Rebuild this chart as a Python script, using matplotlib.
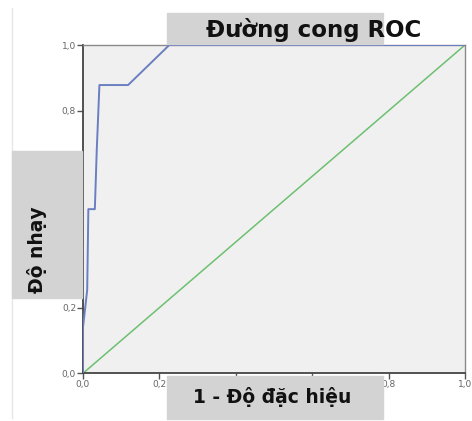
import matplotlib
matplotlib.use("Agg")
import matplotlib.pyplot as plt
from matplotlib.patches import Rectangle
from matplotlib.lines import Line2D

# du lieu doc tu hinh
fpr = [0.0, 0.0, 0.011, 0.014, 0.031, 0.036, 0.043, 0.118, 0.226, 1.0]
tpr = [0.0, 0.14, 0.254, 0.50, 0.50, 0.68, 0.878, 0.878, 1.0, 1.0]
ref_line = [0.0, 1.0]
ticks = [0.0, 0.2, 0.4, 0.6, 0.8, 1.0]
tick_labels = ["0,0", "0,2", "0,4", "0,6", "0,8", "1,0"]
hidden = ["0,4", "0,6"]  # bi hop xam che trong hinh goc

W, H = 472, 421

def fx(px):
    return px / W

def fy(py):
    return 1 - py / H

fig = plt.figure(figsize=(W / 100, H / 100), dpi=100)
fig.patch.set_facecolor("white")

# khung mo ben trai
fig.add_artist(Line2D([fx(12), fx(12)], [fy(8), fy(418)], color="#e6e6e6", lw=1))

ax = fig.add_axes([fx(83), fy(373.3), (465 - 83) / W, (373.3 - 45) / H])
ax.set_facecolor("#f0f0f0")

ax.plot(fpr, tpr, color="#6a7ec2", lw=1.4, zorder=3)
ax.plot(ref_line, ref_line, color="#6cc070", lw=1.1, zorder=2)

ax.set_xlim(0, 1)
ax.set_ylim(0, 1)
ax.set_xticks(ticks)
ax.set_xticklabels(tick_labels)
ax.set_yticks(ticks)
ax.set_yticklabels(tick_labels)
ax.tick_params(direction="out", length=4, width=1, colors="#555555",
               labelsize=6.5, labelcolor="#666666", pad=1)
for lbl in ax.get_xticklabels() + ax.get_yticklabels():
    if lbl.get_text() in hidden:
        lbl.set_visible(False)
for side in ["left", "bottom"]:
    ax.spines[side].set_color("#444444")
    ax.spines[side].set_linewidth(1.3)
for side in ["top", "right"]:
    ax.spines[side].set_color("#8a8a8a")
    ax.spines[side].set_linewidth(1.0)

# hop xam cho tieu de va nhan truc
box_col = "#d3d3d3"
fig.add_artist(Rectangle((fx(167), fy(44)), (383 - 167) / W, (44 - 13) / H,
                         transform=fig.transFigure, color=box_col, zorder=3))
fig.add_artist(Rectangle((fx(12), fy(298)), (82 - 12) / W, (298 - 151) / H,
                         transform=fig.transFigure, color=box_col, zorder=3))
fig.add_artist(Rectangle((fx(167), fy(419)), (383 - 167) / W, (419 - 376) / H,
                         transform=fig.transFigure, color=box_col, zorder=3))

fig.text(fx(314), fy(30), "Đường cong ROC", ha="center", va="center",
         fontsize=16.5, fontweight="bold", color="#111111", zorder=4)
fig.text(fx(37), fy(250), "Độ nhạy", ha="center", va="center", rotation=90,
         fontsize=13.5, fontweight="bold", color="#111111", zorder=4)
fig.text(fx(272), fy(397), "1 - Độ đặc hiệu", ha="center", va="center",
         fontsize=13.5, fontweight="bold", color="#111111", zorder=4)

fig.savefig("out.png", dpi=100)
